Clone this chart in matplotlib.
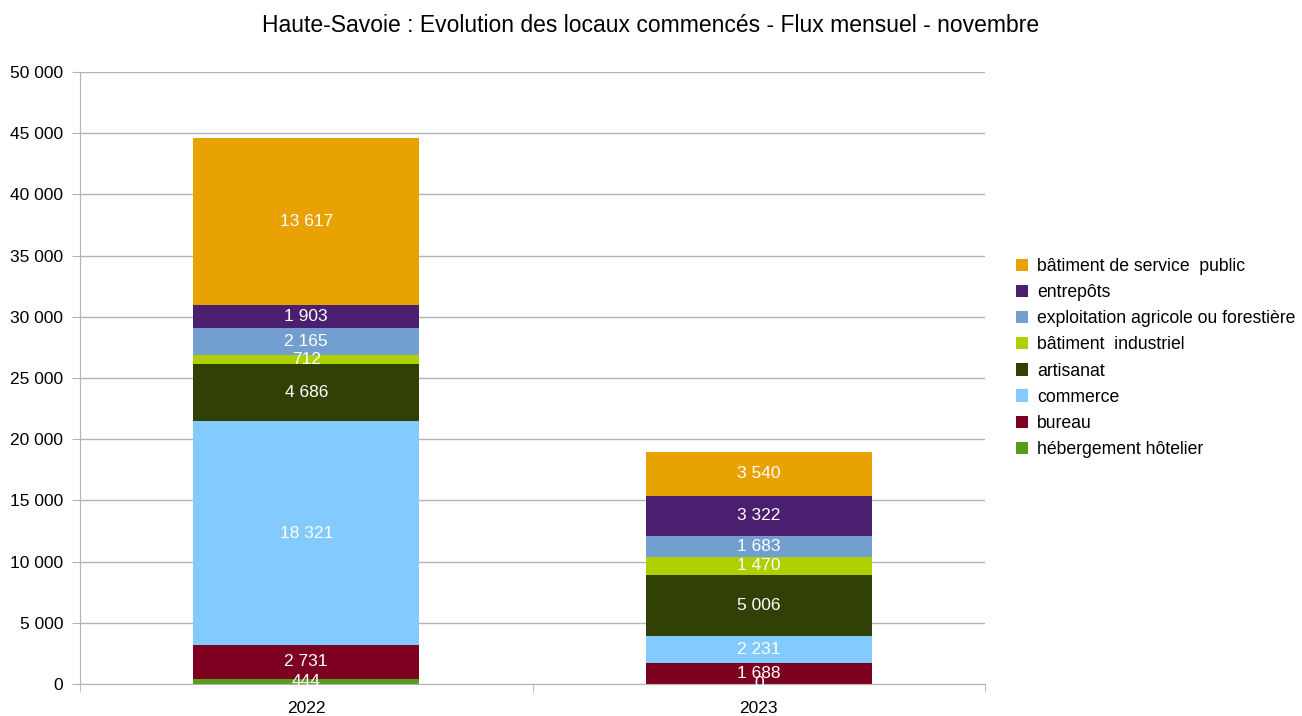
import numpy as np
import matplotlib
matplotlib.use("Agg")
import matplotlib.pyplot as plt

plt.rcParams["font.family"] = ["Liberation Sans", "DejaVu Sans"]

years = ["2022", "2023"]
categories = [
    "hébergement hôtelier",
    "bureau",
    "commerce",
    "artisanat",
    "bâtiment  industriel",
    "exploitation agricole ou forestière",
    "entrepôts",
    "bâtiment de service  public",
]
values = {
    "hébergement hôtelier": [444, 0],
    "bureau": [2731, 1688],
    "commerce": [18321, 2231],
    "artisanat": [4686, 5006],
    "bâtiment  industriel": [712, 1470],
    "exploitation agricole ou forestière": [2165, 1683],
    "entrepôts": [1903, 3322],
    "bâtiment de service  public": [13617, 3540],
}
colors = ["#579D1C", "#7E0021", "#83CAFF", "#314004",
          "#AECF00", "#729FCF", "#4B1F6F", "#E8A202"]
y_ticks = list(range(0, 50001, 5000))


def fmt(v):
    return f"{v:,}".replace(",", " ")


fig = plt.figure(figsize=(13.02, 7.16), dpi=100)
ax = fig.add_axes([80 / 1302, 32 / 716, 905 / 1302, 612 / 716])

x = np.arange(len(years))
bottom = np.zeros(len(years))
handles = []
for cat, col in zip(categories, colors):
    vals = np.array(values[cat], dtype=float)
    h = ax.bar(x, vals, 0.5, bottom=bottom, color=col, zorder=2)
    handles.append(h)
    # labels centred in each segment, as in the original
    for xi, v, b in zip(x, vals, bottom):
        ax.text(xi, b + v / 2, fmt(int(v)), ha="center", va="center",
                color="white", fontsize=12.5, zorder=3)
    bottom += vals

ax.set_xlim(-0.5, 1.5)
ax.set_ylim(0, 50000)
ax.set_yticks(y_ticks)
ax.set_yticklabels([fmt(t) for t in y_ticks], fontsize=12.5)
ax.set_xticks(x)
ax.set_xticklabels(years, fontsize=12.5)
ax.set_xticks([-0.5, 0.5, 1.5], minor=True)
ax.tick_params(axis="x", which="major", length=0, pad=12)
ax.tick_params(axis="x", which="minor", length=6, color="#b3b3b3")
ax.tick_params(axis="y", length=6, color="#b3b3b3", pad=6)
ax.yaxis.grid(True, color="#b3b3b3", linewidth=1, zorder=0)
for s in ["top", "right"]:
    ax.spines[s].set_visible(False)
for s in ["left", "bottom"]:
    ax.spines[s].set_color("#b3b3b3")

fig.suptitle("Haute-Savoie : Evolution des locaux commencés - Flux mensuel - novembre",
             fontsize=16.5, y=0.98)

ax.legend(handles[::-1], categories[::-1], loc="center left",
          bbox_to_anchor=(1000 / 905 - 80 / 905, 0.5 + (684 - 358 - 306) / 612),
          frameon=False, fontsize=12.7, handlelength=0.7, handleheight=0.7,
          handletextpad=0.5, labelspacing=0.52)

fig.savefig("out.png", dpi=100)
